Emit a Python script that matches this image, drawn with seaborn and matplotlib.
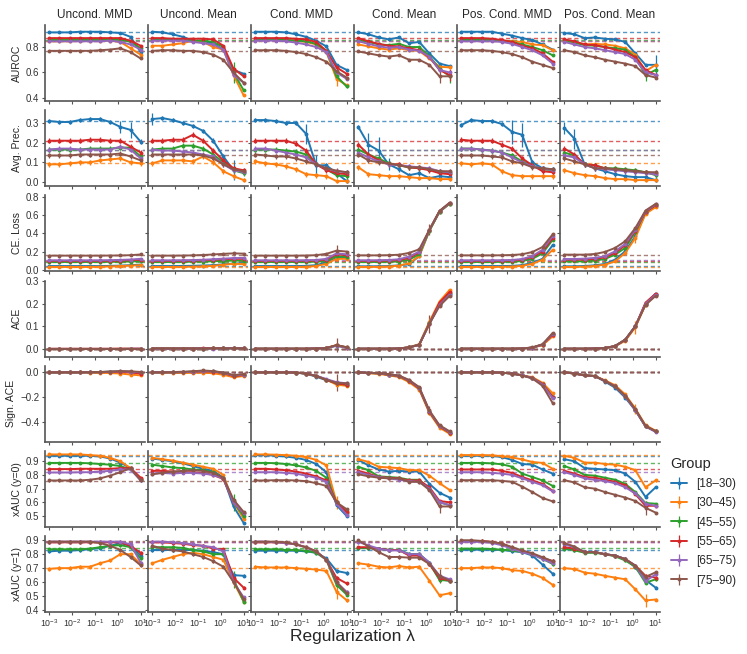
import matplotlib
matplotlib.use("Agg")
import pandas as pd
import matplotlib.pyplot as plt
from matplotlib.ticker import FixedLocator, NullLocator
import seaborn as sns

# %%
# regularisation grid (x axis) and facets
lambdas = [0.001, 0.00278, 0.00774, 0.0215, 0.0599, 0.167, 0.464, 1.29, 3.59, 10.0]
groups = ["[18–30)", "[30–45)", "[45–55)", "[55–65)", "[65–75)", "[75–90)"]
methods = ["Uncond. MMD", "Uncond. Mean", "Cond. MMD", "Cond. Mean",
           "Pos. Cond. MMD", "Pos. Cond. Mean"]
metrics = ["AUROC", "Avg. Prec.", "CE. Loss", "ACE", "Sign. ACE",
           "xAUC (y=0)", "xAUC (y=1)"]

# each method: one list per group (blue, orange, green, red, purple, brown)
auroc = {
    "Uncond. MMD": [
        [0.915, 0.915, 0.915, 0.92, 0.92, 0.92, 0.915, 0.91, 0.88, 0.76],
        [0.845, 0.845, 0.845, 0.85, 0.85, 0.85, 0.85, 0.84, 0.79, 0.74],
        [0.855, 0.855, 0.855, 0.855, 0.855, 0.855, 0.855, 0.86, 0.84, 0.79],
        [0.87, 0.87, 0.87, 0.87, 0.87, 0.87, 0.87, 0.87, 0.85, 0.81],
        [0.845, 0.845, 0.845, 0.845, 0.845, 0.845, 0.85, 0.84, 0.82, 0.78],
        [0.77, 0.77, 0.77, 0.77, 0.77, 0.775, 0.78, 0.79, 0.76, 0.71]],
    "Uncond. Mean": [
        [0.92, 0.915, 0.90, 0.88, 0.85, 0.84, 0.83, 0.78, 0.62, 0.59],
        [0.81, 0.81, 0.82, 0.83, 0.85, 0.84, 0.80, 0.78, 0.58, 0.42],
        [0.86, 0.86, 0.86, 0.855, 0.85, 0.85, 0.84, 0.80, 0.60, 0.46],
        [0.87, 0.87, 0.865, 0.865, 0.865, 0.865, 0.86, 0.81, 0.63, 0.57],
        [0.85, 0.85, 0.85, 0.85, 0.84, 0.83, 0.82, 0.78, 0.58, 0.52],
        [0.77, 0.775, 0.775, 0.77, 0.77, 0.76, 0.74, 0.70, 0.60, 0.52]],
    "Cond. MMD": [
        [0.92, 0.92, 0.92, 0.915, 0.90, 0.88, 0.85, 0.805, 0.66, 0.62],
        [0.855, 0.855, 0.855, 0.855, 0.85, 0.84, 0.82, 0.76, 0.55, 0.50],
        [0.855, 0.855, 0.855, 0.855, 0.85, 0.845, 0.825, 0.77, 0.57, 0.49],
        [0.87, 0.87, 0.87, 0.87, 0.865, 0.86, 0.84, 0.77, 0.64, 0.59],
        [0.85, 0.85, 0.85, 0.845, 0.835, 0.82, 0.80, 0.76, 0.60, 0.55],
        [0.775, 0.775, 0.775, 0.77, 0.76, 0.745, 0.72, 0.685, 0.61, 0.56]],
    "Cond. Mean": [
        [0.915, 0.90, 0.875, 0.86, 0.875, 0.83, 0.84, 0.75, 0.67, 0.65],
        [0.82, 0.805, 0.79, 0.78, 0.79, 0.775, 0.77, 0.71, 0.645, 0.64],
        [0.855, 0.84, 0.82, 0.815, 0.825, 0.80, 0.80, 0.73, 0.63, 0.57],
        [0.87, 0.845, 0.825, 0.81, 0.805, 0.79, 0.775, 0.72, 0.62, 0.58],
        [0.845, 0.825, 0.805, 0.795, 0.80, 0.78, 0.77, 0.725, 0.62, 0.60],
        [0.765, 0.75, 0.735, 0.725, 0.735, 0.70, 0.70, 0.66, 0.57, 0.57]],
    "Pos. Cond. MMD": [
        [0.92, 0.92, 0.92, 0.92, 0.905, 0.89, 0.87, 0.855, 0.82, 0.78],
        [0.855, 0.855, 0.855, 0.855, 0.85, 0.845, 0.84, 0.82, 0.815, 0.775],
        [0.855, 0.855, 0.855, 0.855, 0.85, 0.84, 0.82, 0.80, 0.775, 0.735],
        [0.87, 0.87, 0.87, 0.865, 0.855, 0.84, 0.81, 0.79, 0.75, 0.685],
        [0.845, 0.845, 0.845, 0.845, 0.84, 0.825, 0.80, 0.775, 0.735, 0.67],
        [0.775, 0.775, 0.775, 0.77, 0.76, 0.745, 0.72, 0.685, 0.66, 0.635]],
    "Pos. Cond. Mean": [
        [0.91, 0.90, 0.87, 0.875, 0.865, 0.86, 0.84, 0.75, 0.66, 0.66],
        [0.85, 0.835, 0.82, 0.825, 0.82, 0.81, 0.79, 0.74, 0.61, 0.66],
        [0.855, 0.835, 0.815, 0.81, 0.80, 0.79, 0.78, 0.72, 0.58, 0.62],
        [0.86, 0.845, 0.82, 0.815, 0.80, 0.78, 0.76, 0.72, 0.62, 0.58],
        [0.84, 0.82, 0.80, 0.79, 0.775, 0.76, 0.745, 0.70, 0.60, 0.58],
        [0.775, 0.76, 0.735, 0.72, 0.70, 0.685, 0.67, 0.65, 0.58, 0.56]],
}

avg_prec = {
    "Uncond. MMD": [
        [0.31, 0.305, 0.305, 0.315, 0.32, 0.32, 0.305, 0.28, 0.265, 0.205],
        [0.09, 0.09, 0.095, 0.10, 0.10, 0.11, 0.115, 0.12, 0.10, 0.095],
        [0.165, 0.165, 0.165, 0.165, 0.17, 0.17, 0.17, 0.175, 0.175, 0.13],
        [0.21, 0.21, 0.21, 0.21, 0.215, 0.215, 0.21, 0.21, 0.18, 0.15],
        [0.165, 0.17, 0.17, 0.165, 0.165, 0.165, 0.165, 0.18, 0.165, 0.12],
        [0.135, 0.135, 0.135, 0.14, 0.14, 0.14, 0.14, 0.145, 0.13, 0.11]],
    "Uncond. Mean": [
        [0.32, 0.325, 0.315, 0.30, 0.285, 0.26, 0.21, 0.13, 0.06, 0.05],
        [0.095, 0.11, 0.11, 0.11, 0.105, 0.13, 0.10, 0.055, 0.03, 0.01],
        [0.165, 0.17, 0.17, 0.185, 0.185, 0.17, 0.14, 0.10, 0.06, 0.045],
        [0.21, 0.21, 0.215, 0.215, 0.24, 0.21, 0.16, 0.11, 0.07, 0.06],
        [0.165, 0.16, 0.16, 0.155, 0.15, 0.14, 0.13, 0.09, 0.06, 0.05],
        [0.14, 0.14, 0.14, 0.14, 0.14, 0.135, 0.12, 0.09, 0.065, 0.055]],
    "Cond. MMD": [
        [0.315, 0.315, 0.31, 0.30, 0.30, 0.245, 0.085, 0.085, 0.045, 0.005],
        [0.105, 0.095, 0.09, 0.08, 0.065, 0.04, 0.035, 0.03, 0.005, 0.005],
        [0.165, 0.165, 0.165, 0.16, 0.155, 0.14, 0.09, 0.065, 0.035, 0.03],
        [0.21, 0.21, 0.21, 0.21, 0.195, 0.16, 0.09, 0.06, 0.045, 0.04],
        [0.17, 0.17, 0.16, 0.15, 0.14, 0.125, 0.09, 0.07, 0.055, 0.05],
        [0.14, 0.135, 0.13, 0.13, 0.12, 0.105, 0.09, 0.07, 0.058, 0.05]],
    "Cond. Mean": [
        [0.28, 0.19, 0.16, 0.09, 0.065, 0.035, 0.045, 0.02, 0.03, 0.025],
        [0.075, 0.04, 0.035, 0.03, 0.03, 0.025, 0.02, 0.02, 0.015, 0.015],
        [0.165, 0.14, 0.12, 0.095, 0.085, 0.075, 0.07, 0.065, 0.05, 0.045],
        [0.19, 0.14, 0.11, 0.09, 0.09, 0.075, 0.07, 0.06, 0.045, 0.04],
        [0.15, 0.125, 0.105, 0.09, 0.085, 0.08, 0.075, 0.07, 0.055, 0.05],
        [0.14, 0.11, 0.10, 0.095, 0.085, 0.075, 0.075, 0.065, 0.055, 0.055]],
    "Pos. Cond. MMD": [
        [0.29, 0.315, 0.31, 0.31, 0.295, 0.255, 0.24, 0.10, 0.07, 0.065],
        [0.095, 0.09, 0.095, 0.09, 0.055, 0.035, 0.03, 0.03, 0.03, 0.03],
        [0.17, 0.17, 0.165, 0.16, 0.15, 0.135, 0.105, 0.085, 0.065, 0.06],
        [0.215, 0.21, 0.21, 0.21, 0.19, 0.17, 0.12, 0.085, 0.055, 0.05],
        [0.17, 0.17, 0.165, 0.16, 0.15, 0.125, 0.10, 0.08, 0.07, 0.06],
        [0.135, 0.135, 0.135, 0.13, 0.125, 0.105, 0.095, 0.075, 0.07, 0.065]],
    "Pos. Cond. Mean": [
        [0.275, 0.22, 0.09, 0.07, 0.055, 0.04, 0.03, 0.025, 0.025, 0.01],
        [0.06, 0.045, 0.035, 0.03, 0.02, 0.015, 0.015, 0.01, 0.01, 0.01],
        [0.15, 0.135, 0.09, 0.085, 0.07, 0.07, 0.065, 0.06, 0.05, 0.035],
        [0.17, 0.14, 0.09, 0.085, 0.07, 0.065, 0.06, 0.055, 0.05, 0.045],
        [0.135, 0.125, 0.09, 0.07, 0.065, 0.06, 0.055, 0.05, 0.045, 0.04],
        [0.12, 0.105, 0.09, 0.07, 0.07, 0.065, 0.06, 0.055, 0.05, 0.05]],
}

ce_loss = {
    "Uncond. MMD": [
        [0.04, 0.04, 0.04, 0.04, 0.04, 0.04, 0.042, 0.045, 0.05, 0.055],
        [0.03, 0.03, 0.03, 0.03, 0.03, 0.032, 0.035, 0.04, 0.045, 0.05],
        [0.085, 0.085, 0.085, 0.085, 0.085, 0.085, 0.086, 0.088, 0.09, 0.095],
        [0.097, 0.097, 0.097, 0.097, 0.097, 0.097, 0.098, 0.10, 0.105, 0.11],
        [0.103, 0.103, 0.103, 0.103, 0.103, 0.103, 0.105, 0.108, 0.112, 0.12],
        [0.155, 0.155, 0.155, 0.155, 0.155, 0.155, 0.156, 0.157, 0.16, 0.168]],
    "Uncond. Mean": [
        [0.04, 0.04, 0.04, 0.041, 0.043, 0.046, 0.05, 0.058, 0.068, 0.07],
        [0.03, 0.03, 0.03, 0.031, 0.033, 0.036, 0.042, 0.055, 0.065, 0.062],
        [0.085, 0.085, 0.085, 0.086, 0.088, 0.09, 0.093, 0.097, 0.10, 0.10],
        [0.097, 0.097, 0.097, 0.098, 0.10, 0.103, 0.108, 0.115, 0.12, 0.12],
        [0.103, 0.103, 0.103, 0.104, 0.106, 0.11, 0.115, 0.122, 0.128, 0.13],
        [0.155, 0.155, 0.155, 0.156, 0.158, 0.162, 0.168, 0.175, 0.18, 0.177]],
    "Cond. MMD": [
        [0.04, 0.04, 0.04, 0.04, 0.04, 0.042, 0.05, 0.08, 0.13, 0.13],
        [0.03, 0.03, 0.03, 0.03, 0.03, 0.032, 0.04, 0.065, 0.12, 0.12],
        [0.085, 0.085, 0.085, 0.085, 0.085, 0.086, 0.088, 0.095, 0.15, 0.14],
        [0.097, 0.097, 0.097, 0.097, 0.097, 0.098, 0.10, 0.11, 0.17, 0.16],
        [0.103, 0.103, 0.103, 0.103, 0.103, 0.104, 0.107, 0.12, 0.18, 0.17],
        [0.155, 0.155, 0.155, 0.155, 0.155, 0.156, 0.16, 0.175, 0.21, 0.20]],
    "Cond. Mean": [
        [0.037, 0.037, 0.038, 0.04, 0.048, 0.06, 0.15, 0.43, 0.64, 0.73],
        [0.03, 0.03, 0.031, 0.034, 0.045, 0.07, 0.15, 0.43, 0.64, 0.73],
        [0.085, 0.085, 0.085, 0.087, 0.09, 0.11, 0.17, 0.43, 0.64, 0.73],
        [0.097, 0.097, 0.098, 0.10, 0.105, 0.13, 0.19, 0.44, 0.645, 0.735],
        [0.103, 0.103, 0.104, 0.107, 0.115, 0.145, 0.20, 0.44, 0.645, 0.735],
        [0.158, 0.158, 0.158, 0.16, 0.165, 0.185, 0.225, 0.44, 0.65, 0.74]],
    "Pos. Cond. MMD": [
        [0.04, 0.04, 0.04, 0.04, 0.04, 0.042, 0.05, 0.075, 0.12, 0.27],
        [0.03, 0.03, 0.03, 0.03, 0.031, 0.034, 0.042, 0.065, 0.11, 0.22],
        [0.085, 0.085, 0.085, 0.085, 0.086, 0.088, 0.095, 0.12, 0.18, 0.33],
        [0.097, 0.097, 0.097, 0.097, 0.098, 0.10, 0.11, 0.14, 0.20, 0.35],
        [0.103, 0.103, 0.103, 0.103, 0.104, 0.107, 0.118, 0.15, 0.22, 0.37],
        [0.158, 0.158, 0.158, 0.158, 0.159, 0.162, 0.17, 0.195, 0.25, 0.39]],
    "Pos. Cond. Mean": [
        [0.037, 0.037, 0.041, 0.048, 0.063, 0.111, 0.203, 0.369, 0.627, 0.701],
        [0.03, 0.03, 0.033, 0.041, 0.055, 0.092, 0.185, 0.35, 0.616, 0.69],
        [0.092, 0.092, 0.092, 0.10, 0.118, 0.166, 0.24, 0.417, 0.638, 0.712],
        [0.111, 0.111, 0.111, 0.118, 0.137, 0.185, 0.27, 0.432, 0.638, 0.712],
        [0.118, 0.118, 0.122, 0.13, 0.148, 0.203, 0.284, 0.443, 0.646, 0.72],
        [0.166, 0.166, 0.166, 0.173, 0.196, 0.24, 0.314, 0.46, 0.653, 0.727]],
}

ace = {
    "Uncond. MMD": [
        [0.001, 0.001, 0.001, 0.001, 0.001, 0.001, 0.001, 0.001, 0.001, 0.001],
        [0.0, 0.0, 0.0, 0.0, 0.0, 0.0, 0.0, 0.001, 0.001, 0.001],
        [0.001, 0.001, 0.001, 0.001, 0.001, 0.001, 0.001, 0.001, 0.001, 0.001],
        [0.001, 0.001, 0.001, 0.001, 0.001, 0.001, 0.001, 0.001, 0.001, 0.001],
        [0.0, 0.0, 0.0, 0.0, 0.0, 0.0, 0.0, 0.0, 0.001, 0.001],
        [0.001, 0.001, 0.001, 0.001, 0.001, 0.001, 0.001, 0.001, 0.001, 0.001]],
    "Uncond. Mean": [
        [0.001, 0.001, 0.001, 0.001, 0.001, 0.001, 0.002, 0.002, 0.002, 0.002],
        [0.0, 0.0, 0.0, 0.0, 0.001, 0.001, 0.002, 0.003, 0.003, 0.002],
        [0.001, 0.001, 0.001, 0.001, 0.001, 0.001, 0.002, 0.002, 0.002, 0.002],
        [0.001, 0.001, 0.001, 0.001, 0.001, 0.002, 0.002, 0.003, 0.002, 0.002],
        [0.0, 0.0, 0.0, 0.0, 0.001, 0.001, 0.001, 0.002, 0.002, 0.002],
        [0.001, 0.001, 0.001, 0.001, 0.001, 0.001, 0.002, 0.002, 0.002, 0.002]],
    "Cond. MMD": [
        [0.0, 0.0, 0.0, 0.0, 0.0, 0.0, 0.001, 0.003, 0.015, 0.006],
        [0.0, 0.0, 0.0, 0.0, 0.0, 0.0, 0.001, 0.004, 0.016, 0.006],
        [0.0, 0.0, 0.0, 0.0, 0.0, 0.0, 0.001, 0.003, 0.014, 0.005],
        [0.0, 0.0, 0.0, 0.0, 0.0, 0.0, 0.001, 0.003, 0.015, 0.005],
        [0.0, 0.0, 0.0, 0.0, 0.0, 0.0, 0.001, 0.003, 0.013, 0.005],
        [0.0, 0.0, 0.0, 0.0, 0.0, 0.0, 0.001, 0.003, 0.016, 0.007]],
    "Cond. Mean": [
        [0.0, 0.0, 0.0, 0.0, 0.001, 0.006, 0.018, 0.113, 0.20, 0.245],
        [0.0, 0.0, 0.0, 0.0, 0.001, 0.007, 0.02, 0.12, 0.21, 0.262],
        [0.0, 0.0, 0.0, 0.0, 0.001, 0.006, 0.018, 0.113, 0.20, 0.25],
        [0.0, 0.0, 0.0, 0.0, 0.001, 0.006, 0.017, 0.112, 0.205, 0.252],
        [0.0, 0.0, 0.0, 0.0, 0.001, 0.006, 0.018, 0.11, 0.195, 0.24],
        [0.0, 0.0, 0.0, 0.0, 0.001, 0.006, 0.018, 0.11, 0.19, 0.235]],
    "Pos. Cond. MMD": [
        [0.0, 0.0, 0.0, 0.0, 0.0, 0.0, 0.001, 0.005, 0.018, 0.065],
        [0.0, 0.0, 0.0, 0.0, 0.0, 0.0, 0.001, 0.005, 0.016, 0.055],
        [0.0, 0.0, 0.0, 0.0, 0.0, 0.0, 0.001, 0.005, 0.018, 0.065],
        [0.0, 0.0, 0.0, 0.0, 0.0, 0.0, 0.001, 0.005, 0.018, 0.062],
        [0.0, 0.0, 0.0, 0.0, 0.0, 0.0, 0.001, 0.005, 0.019, 0.066],
        [0.0, 0.0, 0.0, 0.0, 0.0, 0.0, 0.001, 0.006, 0.02, 0.07]],
    "Pos. Cond. Mean": [
        [0.0, 0.0, 0.0, 0.001, 0.003, 0.012, 0.04, 0.10, 0.20, 0.245],
        [0.0, 0.0, 0.0, 0.001, 0.003, 0.011, 0.035, 0.095, 0.195, 0.24],
        [0.0, 0.0, 0.0, 0.001, 0.003, 0.012, 0.04, 0.10, 0.20, 0.24],
        [0.0, 0.0, 0.0, 0.001, 0.003, 0.012, 0.04, 0.10, 0.205, 0.245],
        [0.0, 0.0, 0.0, 0.001, 0.003, 0.012, 0.04, 0.10, 0.20, 0.24],
        [0.0, 0.0, 0.0, 0.001, 0.003, 0.012, 0.04, 0.10, 0.195, 0.235]],
}

sign_ace = {
    "Uncond. MMD": [
        [0.0, 0.0, 0.0, 0.0, 0.0, 0.002, 0.004, 0.004, 0.002, -0.005],
        [0.0, 0.0, 0.0, 0.0, -0.002, -0.004, -0.006, -0.01, -0.018, -0.025],
        [0.0, 0.0, 0.0, 0.0, 0.0, 0.002, 0.005, 0.006, 0.004, -0.005],
        [0.0, 0.0, 0.0, 0.0, 0.0, 0.001, 0.003, 0.003, 0.0, -0.01],
        [0.0, 0.0, 0.0, 0.0, 0.0, 0.002, 0.005, 0.008, 0.005, 0.0],
        [0.0, 0.0, 0.0, 0.0, 0.001, 0.003, 0.006, 0.01, 0.008, 0.003]],
    "Uncond. Mean": [
        [0.0, 0.0, 0.0, 0.002, 0.004, 0.008, 0.005, -0.008, -0.03, -0.02],
        [0.0, -0.002, -0.004, -0.005, -0.005, -0.003, -0.008, -0.02, -0.04, -0.03],
        [0.0, 0.0, 0.0, 0.002, 0.005, 0.01, 0.008, -0.005, -0.028, -0.02],
        [0.0, 0.0, 0.0, 0.002, 0.004, 0.008, 0.006, -0.006, -0.03, -0.022],
        [0.0, 0.0, 0.0, 0.002, 0.005, 0.01, 0.008, -0.004, -0.025, -0.018],
        [0.0, 0.0, 0.002, 0.005, 0.008, 0.015, 0.01, -0.002, -0.022, -0.015]],
    "Cond. MMD": [
        [0.0, 0.0, 0.0, 0.0, -0.002, -0.012, -0.035, -0.065, -0.085, -0.095],
        [0.0, 0.0, 0.0, 0.0, -0.002, -0.01, -0.03, -0.06, -0.10, -0.11],
        [0.0, 0.0, 0.0, 0.0, -0.002, -0.01, -0.03, -0.06, -0.09, -0.10],
        [0.0, 0.0, 0.0, 0.0, -0.002, -0.01, -0.03, -0.06, -0.09, -0.10],
        [0.0, 0.0, 0.0, 0.0, -0.002, -0.01, -0.028, -0.055, -0.08, -0.09],
        [0.0, 0.0, 0.0, 0.0, -0.002, -0.01, -0.03, -0.06, -0.085, -0.09]],
    "Cond. Mean": [
        [0.0, -0.005, -0.008, -0.02, -0.03, -0.07, -0.13, -0.32, -0.44, -0.49],
        [0.0, -0.008, -0.012, -0.025, -0.038, -0.08, -0.14, -0.33, -0.45, -0.50],
        [0.0, -0.005, -0.008, -0.02, -0.03, -0.07, -0.13, -0.32, -0.44, -0.49],
        [0.0, -0.005, -0.008, -0.02, -0.03, -0.07, -0.13, -0.32, -0.44, -0.49],
        [0.0, -0.004, -0.007, -0.018, -0.028, -0.065, -0.125, -0.315, -0.435, -0.485],
        [0.0, -0.004, -0.006, -0.016, -0.026, -0.062, -0.12, -0.31, -0.43, -0.48]],
    "Pos. Cond. MMD": [
        [0.0, 0.0, 0.0, 0.0, -0.003, -0.01, -0.025, -0.048, -0.10, -0.20],
        [0.0, 0.0, 0.0, 0.0, -0.003, -0.01, -0.025, -0.04, -0.085, -0.17],
        [0.0, 0.0, 0.0, 0.0, -0.003, -0.01, -0.025, -0.045, -0.095, -0.20],
        [0.0, 0.0, 0.0, 0.0, -0.003, -0.01, -0.025, -0.045, -0.095, -0.20],
        [0.0, 0.0, 0.0, 0.0, -0.003, -0.01, -0.025, -0.047, -0.10, -0.21],
        [0.0, 0.0, 0.0, 0.0, -0.003, -0.01, -0.026, -0.05, -0.11, -0.25]],
    "Pos. Cond. Mean": [
        [0.0, -0.01, -0.025, -0.03, -0.075, -0.125, -0.205, -0.31, -0.44, -0.48],
        [0.0, -0.01, -0.025, -0.03, -0.065, -0.105, -0.18, -0.295, -0.43, -0.475],
        [0.0, -0.01, -0.025, -0.03, -0.07, -0.115, -0.195, -0.305, -0.44, -0.48],
        [0.0, -0.01, -0.025, -0.03, -0.07, -0.115, -0.195, -0.305, -0.44, -0.48],
        [0.0, -0.01, -0.025, -0.03, -0.07, -0.115, -0.195, -0.305, -0.44, -0.485],
        [0.0, -0.01, -0.025, -0.03, -0.07, -0.115, -0.19, -0.30, -0.435, -0.48]],
}

xauc0 = {
    "Uncond. MMD": [
        [0.94, 0.94, 0.94, 0.94, 0.94, 0.935, 0.92, 0.89, 0.85, 0.765],
        [0.95, 0.95, 0.95, 0.95, 0.945, 0.94, 0.925, 0.90, 0.85, 0.77],
        [0.888, 0.888, 0.888, 0.888, 0.885, 0.88, 0.875, 0.865, 0.84, 0.77],
        [0.843, 0.843, 0.843, 0.845, 0.845, 0.845, 0.845, 0.85, 0.85, 0.78],
        [0.818, 0.818, 0.818, 0.82, 0.82, 0.825, 0.83, 0.84, 0.84, 0.76],
        [0.76, 0.76, 0.76, 0.76, 0.765, 0.775, 0.795, 0.82, 0.85, 0.76]],
    "Uncond. Mean": [
        [0.92, 0.91, 0.90, 0.885, 0.865, 0.845, 0.83, 0.78, 0.57, 0.45],
        [0.925, 0.915, 0.905, 0.89, 0.875, 0.86, 0.845, 0.80, 0.60, 0.48],
        [0.875, 0.865, 0.855, 0.85, 0.84, 0.835, 0.82, 0.775, 0.60, 0.50],
        [0.83, 0.83, 0.825, 0.82, 0.82, 0.815, 0.80, 0.77, 0.60, 0.52],
        [0.81, 0.815, 0.81, 0.815, 0.815, 0.81, 0.80, 0.775, 0.60, 0.52],
        [0.805, 0.815, 0.825, 0.83, 0.835, 0.83, 0.815, 0.78, 0.62, 0.53]],
    "Cond. MMD": [
        [0.945, 0.945, 0.94, 0.935, 0.925, 0.91, 0.88, 0.82, 0.58, 0.50],
        [0.95, 0.95, 0.948, 0.945, 0.94, 0.93, 0.91, 0.87, 0.60, 0.54],
        [0.888, 0.888, 0.886, 0.88, 0.87, 0.855, 0.83, 0.78, 0.60, 0.52],
        [0.845, 0.845, 0.84, 0.835, 0.825, 0.81, 0.79, 0.76, 0.60, 0.53],
        [0.82, 0.82, 0.82, 0.815, 0.81, 0.795, 0.78, 0.75, 0.59, 0.51],
        [0.76, 0.76, 0.762, 0.762, 0.76, 0.755, 0.74, 0.72, 0.60, 0.55]],
    "Cond. Mean": [
        [0.91, 0.87, 0.84, 0.825, 0.83, 0.825, 0.825, 0.735, 0.67, 0.635],
        [0.915, 0.895, 0.86, 0.855, 0.85, 0.835, 0.835, 0.795, 0.74, 0.69],
        [0.86, 0.835, 0.79, 0.785, 0.78, 0.765, 0.765, 0.70, 0.60, 0.58],
        [0.83, 0.81, 0.785, 0.78, 0.775, 0.76, 0.76, 0.71, 0.61, 0.60],
        [0.82, 0.80, 0.785, 0.775, 0.765, 0.755, 0.75, 0.70, 0.60, 0.58],
        [0.805, 0.79, 0.78, 0.775, 0.775, 0.75, 0.75, 0.69, 0.57, 0.57]],
    "Pos. Cond. MMD": [
        [0.94, 0.94, 0.94, 0.94, 0.93, 0.91, 0.88, 0.875, 0.84, 0.81],
        [0.945, 0.945, 0.945, 0.943, 0.938, 0.928, 0.913, 0.895, 0.888, 0.845],
        [0.888, 0.888, 0.888, 0.885, 0.878, 0.86, 0.81, 0.785, 0.76, 0.72],
        [0.84, 0.84, 0.84, 0.84, 0.83, 0.815, 0.785, 0.76, 0.735, 0.685],
        [0.82, 0.82, 0.82, 0.815, 0.81, 0.80, 0.775, 0.75, 0.725, 0.68],
        [0.762, 0.762, 0.762, 0.762, 0.757, 0.75, 0.715, 0.675, 0.632, 0.607]],
    "Pos. Cond. Mean": [
        [0.915, 0.90, 0.85, 0.845, 0.84, 0.835, 0.81, 0.75, 0.64, 0.71],
        [0.94, 0.925, 0.89, 0.89, 0.88, 0.875, 0.86, 0.835, 0.71, 0.76],
        [0.865, 0.84, 0.80, 0.795, 0.78, 0.765, 0.735, 0.675, 0.595, 0.59],
        [0.83, 0.81, 0.785, 0.78, 0.765, 0.75, 0.725, 0.66, 0.575, 0.575],
        [0.82, 0.80, 0.775, 0.765, 0.755, 0.74, 0.71, 0.665, 0.59, 0.575],
        [0.762, 0.745, 0.71, 0.70, 0.675, 0.655, 0.635, 0.61, 0.56, 0.525]],
}

xauc1 = {
    "Uncond. MMD": [
        [0.82, 0.825, 0.825, 0.83, 0.835, 0.845, 0.86, 0.88, 0.86, 0.79],
        [0.695, 0.70, 0.70, 0.71, 0.71, 0.735, 0.755, 0.80, 0.80, 0.73],
        [0.835, 0.835, 0.835, 0.835, 0.84, 0.85, 0.86, 0.865, 0.85, 0.77],
        [0.885, 0.885, 0.885, 0.885, 0.885, 0.885, 0.885, 0.885, 0.86, 0.81],
        [0.89, 0.89, 0.89, 0.89, 0.89, 0.89, 0.89, 0.89, 0.87, 0.74],
        [0.89, 0.89, 0.89, 0.89, 0.89, 0.88, 0.86, 0.83, 0.78, 0.72]],
    "Uncond. Mean": [
        [0.83, 0.83, 0.83, 0.83, 0.83, 0.825, 0.815, 0.80, 0.65, 0.645],
        [0.735, 0.76, 0.78, 0.80, 0.81, 0.80, 0.78, 0.76, 0.60, 0.46],
        [0.85, 0.85, 0.85, 0.845, 0.83, 0.82, 0.80, 0.80, 0.62, 0.46],
        [0.885, 0.885, 0.88, 0.875, 0.865, 0.86, 0.84, 0.835, 0.63, 0.56],
        [0.89, 0.89, 0.885, 0.88, 0.87, 0.86, 0.85, 0.82, 0.60, 0.49],
        [0.86, 0.84, 0.83, 0.82, 0.80, 0.78, 0.75, 0.71, 0.60, 0.48]],
    "Cond. MMD": [
        [0.825, 0.825, 0.825, 0.825, 0.825, 0.82, 0.81, 0.77, 0.68, 0.665],
        [0.71, 0.705, 0.705, 0.705, 0.70, 0.695, 0.69, 0.68, 0.53, 0.47],
        [0.835, 0.835, 0.835, 0.83, 0.83, 0.825, 0.81, 0.76, 0.58, 0.51],
        [0.885, 0.885, 0.885, 0.88, 0.87, 0.85, 0.82, 0.76, 0.63, 0.59],
        [0.89, 0.89, 0.885, 0.88, 0.87, 0.85, 0.82, 0.76, 0.60, 0.53],
        [0.89, 0.89, 0.89, 0.885, 0.87, 0.85, 0.82, 0.76, 0.60, 0.52]],
    "Cond. Mean": [
        [0.845, 0.845, 0.84, 0.83, 0.83, 0.80, 0.80, 0.74, 0.62, 0.61],
        [0.735, 0.725, 0.71, 0.705, 0.715, 0.705, 0.71, 0.61, 0.505, 0.52],
        [0.845, 0.845, 0.84, 0.83, 0.83, 0.80, 0.80, 0.735, 0.615, 0.61],
        [0.85, 0.85, 0.84, 0.83, 0.83, 0.79, 0.79, 0.73, 0.63, 0.61],
        [0.888, 0.863, 0.84, 0.827, 0.827, 0.80, 0.80, 0.74, 0.645, 0.62],
        [0.90, 0.855, 0.815, 0.78, 0.78, 0.775, 0.775, 0.73, 0.645, 0.61]],
    "Pos. Cond. MMD": [
        [0.832, 0.832, 0.832, 0.832, 0.83, 0.822, 0.815, 0.79, 0.725, 0.66],
        [0.70, 0.70, 0.705, 0.705, 0.70, 0.685, 0.68, 0.66, 0.63, 0.58],
        [0.84, 0.84, 0.84, 0.837, 0.832, 0.827, 0.815, 0.80, 0.766, 0.73],
        [0.895, 0.895, 0.895, 0.888, 0.876, 0.846, 0.822, 0.802, 0.773, 0.75],
        [0.888, 0.888, 0.888, 0.881, 0.864, 0.839, 0.815, 0.798, 0.766, 0.735],
        [0.90, 0.90, 0.895, 0.888, 0.876, 0.851, 0.827, 0.807, 0.778, 0.75]],
    "Pos. Cond. Mean": [
        [0.84, 0.833, 0.815, 0.815, 0.80, 0.79, 0.765, 0.705, 0.615, 0.56],
        [0.70, 0.693, 0.668, 0.66, 0.645, 0.632, 0.62, 0.548, 0.468, 0.475],
        [0.84, 0.828, 0.81, 0.81, 0.80, 0.785, 0.755, 0.71, 0.595, 0.62],
        [0.85, 0.84, 0.815, 0.815, 0.80, 0.79, 0.765, 0.718, 0.645, 0.632],
        [0.87, 0.85, 0.815, 0.815, 0.80, 0.79, 0.765, 0.718, 0.607, 0.655],
        [0.88, 0.855, 0.815, 0.815, 0.80, 0.79, 0.765, 0.718, 0.637, 0.67]],
}

# reference (dashed) level per row, one per group
baselines = {
    "AUROC": [0.915, 0.845, 0.855, 0.87, 0.85, 0.77],
    "Avg. Prec.": [0.31, 0.095, 0.165, 0.21, 0.165, 0.14],
    "CE. Loss": [0.04, 0.03, 0.085, 0.10, 0.105, 0.158],
    "ACE": [0.0, 0.0, 0.0, 0.0, 0.0, 0.0],
    "Sign. ACE": [0.0, 0.0, 0.0, 0.0, 0.0, 0.0],
    "xAUC (y=0)": [0.935, 0.945, 0.888, 0.843, 0.818, 0.758],
    "xAUC (y=1)": [0.83, 0.70, 0.843, 0.888, 0.89, 0.893],
}

# typical error bar half-width per row, plus the few long ones
default_err = {"AUROC": 0.008, "Avg. Prec.": 0.012, "CE. Loss": 0.006, "ACE": 0.003,
               "Sign. ACE": 0.008, "xAUC (y=0)": 0.008, "xAUC (y=1)": 0.012}
big_err = [
    ("AUROC", "Uncond. Mean", 2, 8, 0.08), ("AUROC", "Uncond. Mean", 1, 8, 0.05),
    ("AUROC", "Cond. MMD", 1, 8, 0.06), ("AUROC", "Cond. MMD", 3, 8, 0.03),
    ("AUROC", "Cond. Mean", 3, 9, 0.05), ("AUROC", "Cond. Mean", 2, 9, 0.05),
    ("AUROC", "Cond. Mean", 5, 8, 0.05), ("AUROC", "Pos. Cond. Mean", 0, 9, 0.08),
    ("AUROC", "Pos. Cond. Mean", 2, 8, 0.05),
    ("Avg. Prec.", "Uncond. MMD", 0, 7, 0.03), ("Avg. Prec.", "Uncond. MMD", 0, 8, 0.04),
    ("Avg. Prec.", "Uncond. Mean", 0, 8, 0.05), ("Avg. Prec.", "Uncond. Mean", 0, 0, 0.03),
    ("Avg. Prec.", "Cond. MMD", 0, 5, 0.05), ("Avg. Prec.", "Cond. MMD", 0, 6, 0.05),
    ("Avg. Prec.", "Cond. Mean", 0, 1, 0.06), ("Avg. Prec.", "Cond. Mean", 0, 2, 0.07),
    ("Avg. Prec.", "Cond. Mean", 0, 3, 0.03), ("Avg. Prec.", "Pos. Cond. MMD", 0, 5, 0.06),
    ("Avg. Prec.", "Pos. Cond. MMD", 0, 6, 0.06), ("Avg. Prec.", "Pos. Cond. Mean", 0, 1, 0.05),
    ("Avg. Prec.", "Pos. Cond. Mean", 0, 0, 0.03),
    ("CE. Loss", "Cond. MMD", 5, 8, 0.06), ("CE. Loss", "Cond. Mean", 5, 7, 0.06),
    ("CE. Loss", "Pos. Cond. Mean", 1, 7, 0.05),
    ("ACE", "Cond. MMD", 5, 8, 0.03), ("ACE", "Cond. Mean", 5, 7, 0.04),
    ("ACE", "Pos. Cond. Mean", 1, 7, 0.03),
    ("Sign. ACE", "Cond. MMD", 5, 8, 0.07), ("Sign. ACE", "Cond. Mean", 5, 7, 0.04),
    ("Sign. ACE", "Pos. Cond. Mean", 1, 7, 0.04),
    ("xAUC (y=0)", "Uncond. Mean", 2, 8, 0.06), ("xAUC (y=0)", "Cond. MMD", 1, 8, 0.05),
    ("xAUC (y=0)", "Cond. Mean", 5, 8, 0.05), ("xAUC (y=0)", "Pos. Cond. Mean", 5, 8, 0.05),
    ("xAUC (y=1)", "Uncond. Mean", 2, 8, 0.06), ("xAUC (y=1)", "Cond. MMD", 1, 8, 0.05),
    ("xAUC (y=1)", "Cond. Mean", 5, 8, 0.05), ("xAUC (y=1)", "Pos. Cond. Mean", 1, 8, 0.05),
]

ylims = {"AUROC": (0.376, 0.973), "Avg. Prec.": (-0.021, 0.365), "CE. Loss": (-0.019, 0.82),
         "ACE": (-0.035, 0.303), "Sign. ACE": (-0.565, 0.053),
         "xAUC (y=0)": (0.42, 0.975), "xAUC (y=1)": (0.384, 0.929)}
yticks = {"AUROC": [0.4, 0.6, 0.8], "Avg. Prec.": [0.0, 0.1, 0.2, 0.3],
          "CE. Loss": [0.0, 0.2, 0.4, 0.6, 0.8], "ACE": [0.0, 0.1, 0.2, 0.3],
          "Sign. ACE": [-0.4, -0.2, 0.0], "xAUC (y=0)": [0.5, 0.6, 0.7, 0.8, 0.9],
          "xAUC (y=1)": [0.4, 0.5, 0.6, 0.7, 0.8, 0.9]}

# %%
tables = dict(zip(metrics, [auroc, avg_prec, ce_loss, ace, sign_ace, xauc0, xauc1]))
records = []
for metric, table in tables.items():
    for method in methods:
        for grp, series in zip(groups, table[method]):
            for lam, val in zip(lambdas, series):
                records.append({"metric": metric, "method": method, "group": grp,
                                "lam": lam, "value": val, "err": default_err[metric]})
df = pd.DataFrame(records)
for metric, method, gi, idx, e in big_err:
    mask = (df.metric == metric) & (df.method == method) & (df.group == groups[gi]) \
        & (df.lam == lambdas[idx])
    df.loc[mask, "err"] = e

# %%
sns.set_theme(style="ticks")
plt.rcParams["font.family"] = ["Liberation Sans", "DejaVu Sans"]
plt.rcParams["mathtext.fontset"] = "custom"
plt.rcParams["mathtext.rm"] = "Liberation Sans"
plt.rcParams["mathtext.it"] = "Liberation Sans:italic"
plt.rcParams["axes.edgecolor"] = "#555555"
plt.rcParams["xtick.color"] = "#555555"
plt.rcParams["ytick.color"] = "#555555"
plt.rcParams["xtick.labelcolor"] = "#333333"
plt.rcParams["ytick.labelcolor"] = "#333333"

palette = sns.color_palette("tab10", 6)

g = sns.FacetGrid(df, row="metric", col="method", hue="group",
                  row_order=metrics, col_order=methods, hue_order=groups,
                  palette=palette, sharex=True, sharey="row",
                  height=1.0, aspect=1.3, despine=True)


def draw(data, color, label=None, **kws):
    ax = plt.gca()
    ax.errorbar(data["lam"], data["value"], yerr=data["err"], color=color,
                lw=1.4, marker="o", ms=1.8, elinewidth=0.9, capsize=0,
                label=label, zorder=3)


g.map_dataframe(draw)

fig = g.figure
W, H = 747, 654
fig.set_size_inches(W / 100, H / 100)

for i, metric in enumerate(metrics):
    for j, method in enumerate(methods):
        ax = g.axes[i, j]
        left, top = 45 + 103 * j, 25 + 85.2 * i
        ax.set_position([left / W, 1 - (top + 76) / H, 100 / W, 76 / H])
        for k, level in enumerate(baselines[metric]):
            ax.axhline(level, color=palette[k], ls=(0, (3, 2)), lw=1.0,
                       alpha=0.75, zorder=1)
        ax.set_xscale("log")
        ax.set_xlim(10 ** -3.19, 10 ** 1.19)
        ax.xaxis.set_major_locator(FixedLocator([1e-3, 1e-2, 1e-1, 1e0, 1e1]))
        ax.xaxis.set_minor_locator(NullLocator())
        ax.set_ylim(*ylims[metric])
        ax.yaxis.set_major_locator(FixedLocator(yticks[metric]))
        ax.tick_params(length=2.5, width=0.8, pad=1.5)
        ax.tick_params(axis="y", labelsize=7)
        ax.tick_params(axis="x", labelsize=6.3)
        ax.set_title("")
        ax.set_xlabel("")
        ax.set_ylabel(metric if j == 0 else "", fontsize=7.5, labelpad=3)
        for side in ["left", "bottom"]:
            ax.spines[side].set_linewidth(1.2)
        if i == 0:
            ax.set_title(method, fontsize=8.5, pad=5)
        if i < len(metrics) - 1:
            ax.tick_params(labelbottom=False)
        if j > 0:
            ax.tick_params(labelleft=False)

fig.text((45 + 659) / 2 / W, 1 - 637 / H, "Regularization λ", ha="center",
         va="center", fontsize=12.5)

handles, labels = g.axes[0, 0].get_legend_handles_labels()
leg = fig.legend(handles, labels, title="Group", loc="upper left",
                 bbox_to_anchor=(660 / W, 1 - 446 / H), frameon=False,
                 fontsize=8.5, title_fontsize=10.5, labelspacing=0.62,
                 handlelength=1.4, handletextpad=0.8)
leg._legend_box.align = "left"

fig.savefig("out.png", dpi=100)
